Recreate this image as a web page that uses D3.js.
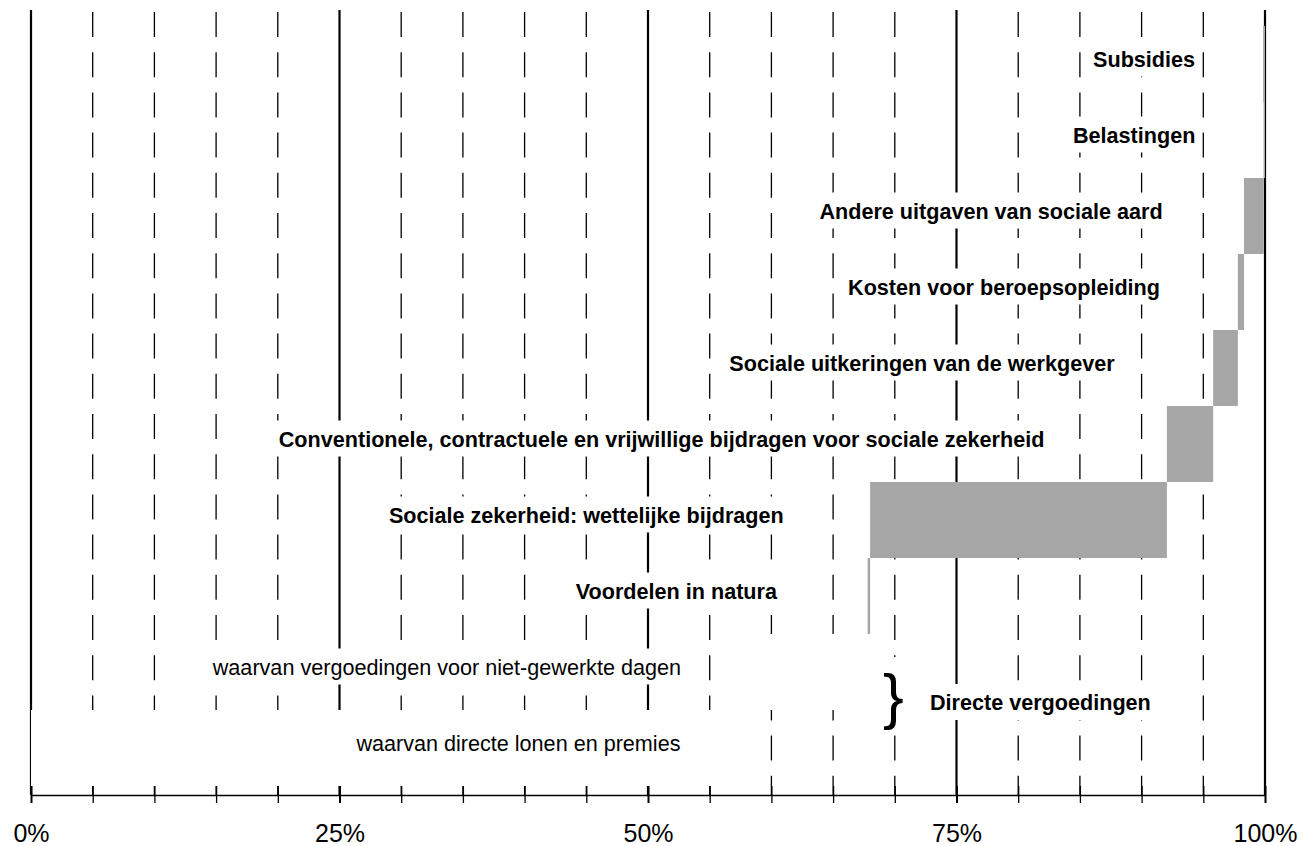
<!DOCTYPE html>
<html lang="nl">
<head>
<meta charset="utf-8">
<script src="https://d3js.org/d3.v7.min.js"></script>
<title>Structuur van de loonkosten</title>
<style>
    body {
        margin: 0;
        background: #fff;
        font-family: "Liberation Sans", Arial, Helvetica, sans-serif;
    }
    svg { display: block; }
</style>
</head>
<body>
<svg id="chart" width="1303" height="846"></svg>
<script>

// rows, bottom first: the waterfall builds up from the bottom row
var categories = [
    "waarvan directe lonen en premies",
    "waarvan vergoedingen voor niet-gewerkte dagen",
    "Voordelen in natura",
    "Sociale zekerheid: wettelijke bijdragen",
    "Conventionele, contractuele en vrijwillige bijdragen voor sociale zekerheid",
    "Sociale uitkeringen van de werkgever",
    "Kosten voor beroepsopleiding",
    "Andere uitgaven van sociale aard",
    "Belastingen",
    "Subsidies"
];

// share of the total labour cost, in %
var shares = [57.5, 10.3, 0.2, 24.05, 3.75, 2.0, 0.5, 1.6, 0.1, -0.15];

// the two "waarvan" rows together make up the direct pay
var groups = ["direct", "direct", "other", "other", "other", "other", "other", "other", "other", "other"];
var braceLabel = "Directe vergoedingen";

var tickValues = d3.range(0, 101, 5);
var tickLabels = { 0: "0%", 25: "25%", 50: "50%", 75: "75%", 100: "100%" };

// label placement (centre of each label, in % along the axis)
var labelCentre = [39.5, 33.7, 52.3, 45.0, 51.1, 72.2, 78.85, 77.8, 89.4, 90.2];

var svg = d3.select("#chart");

var x = d3.scaleLinear().domain([0, 100]).range([31, 1265]);
var y = d3.scaleBand()
    .domain(categories.slice().reverse())
    .range([26, 786])
    .padding(0);

var gridTop = 10, axisY = 795;

// running totals -> bar ends
var total = 0;
var rows = categories.map(function (c, i) {
    var from = total;
    total += shares[i];
    return {
        name: c,
        x0: Math.min(from, total),
        x1: Math.max(from, total),
        group: groups[i],
        centre: labelCentre[i]
    };
});

// gridlines every 5%, solid on the quarters
svg.append("g")
    .selectAll("line")
    .data(tickValues)
    .enter()
    .append("line")
    .attr("x1", function (d) { return x(d); })
    .attr("x2", function (d) { return x(d); })
    .attr("y1", function (d) { return d % 25 === 0 ? gridTop : gridTop + 2; })
    .attr("y2", axisY)
    .attr("stroke", "#000")
    .attr("stroke-width", function (d) { return d % 25 === 0 ? 2.2 : 1.3; })
    .attr("stroke-dasharray", function (d) { return d % 25 === 0 ? null : "25,15.2"; });

// bars (the direct pay rows are white, so they only mask the grid)
svg.append("g")
    .selectAll("rect")
    .data(rows)
    .enter()
    .append("rect")
    .attr("x", function (d) { return x(d.x0); })
    .attr("width", function (d) { return x(d.x1) - x(d.x0); })
    .attr("y", function (d) { return y(d.name); })
    .attr("height", y.bandwidth())
    .attr("fill", function (d) { return d.group === "direct" ? "#fff" : "#a6a6a6"; });

// labels with a white box behind them
var boxes = svg.append("g");
var labels = svg.append("g")
    .attr("font-size", 21.6)
    .attr("fill", "#000");

labels.selectAll("text")
    .data(rows)
    .enter()
    .append("text")
    .attr("x", function (d) { return x(d.centre); })
    .attr("y", function (d) { return y(d.name) + y.bandwidth() / 2 + 2.5; })
    .attr("text-anchor", "middle")
    .attr("font-weight", function (d) { return d.group === "direct" ? "normal" : "bold"; })
    .text(function (d) { return d.name; });

// brace grouping the two direct pay rows
var joinY = y(categories[0]);
var brace = labels.append("text")
    .attr("x", x(69.05))
    .attr("y", joinY + 7)
    .attr("font-size", 62)
    .text("}");
labels.append("text")
    .attr("x", x(72.85))
    .attr("y", joinY)
    .attr("font-weight", "bold")
    .text(braceLabel);

labels.selectAll("text").each(function () {
    var b = this.getBBox();
    var big = this === brace.node();
    var base = +d3.select(this).attr("y");
    boxes.append("rect")
        .attr("x", b.x - 3)
        .attr("width", b.width + 6)
        .attr("y", big ? b.y - 4 : base - 26)
        .attr("height", big ? b.height + 4 : 36)
        .attr("fill", "#fff");
});

// x axis
var axis = svg.append("g")
    .attr("transform", "translate(0," + axisY + ")")
    .call(d3.axisBottom(x)
        .tickValues(tickValues)
        .tickFormat(function (d) { return tickLabels[d] || ""; })
        .tickSize(8)
        .tickSizeOuter(0));

axis.select(".domain").attr("stroke", "#000").attr("stroke-width", 1.5);
axis.selectAll(".tick line")
    .attr("y1", -9)
    .attr("y2", 8)
    .attr("stroke", "#000")
    .attr("stroke-width", function (d) { return d % 25 === 0 ? 2 : 1.3; });
axis.selectAll(".tick text")
    .attr("y", 29)
    .attr("font-size", 25)
    .attr("font-family", "'Liberation Sans', Arial, Helvetica, sans-serif")
    .attr("fill", "#000");

</script>
</body>
</html>
